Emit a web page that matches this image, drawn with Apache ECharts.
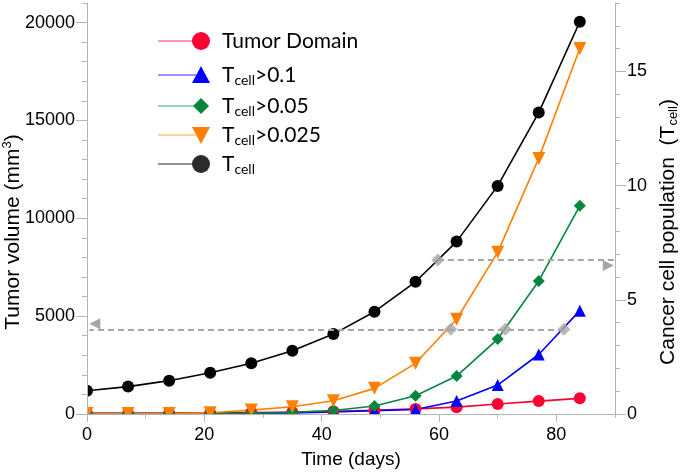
<!DOCTYPE html>
<html><head><meta charset="utf-8">
<script src="https://cdn.jsdelivr.net/npm/echarts@6/dist/echarts.min.js"></script>
<style>html,body{margin:0;padding:0;background:#fff}#c{width:681px;height:474px}</style>
</head><body><div id="c"></div>
<script>
// ---- data ----
const days = [0,7,14,21,28,35,42,49,56,63,70,77,84];
const tumorDomain    = [20,25,35,50,70,100,140,190,260,350,510,660,800];
const tcellAbove01   = [40,40,40,40,40,50,100,170,230,660,1480,3040,5280];
const tcellAbove005  = [20,20,20,25,40,90,180,410,935,1940,3830,6800,10640];
const tcellAbove0025 = [20,20,20,60,200,370,680,1310,2590,4840,8260,13060,18680];
const tcellPopulation = [1.02,1.20,1.46,1.81,2.22,2.77,3.50,4.48,5.79,7.55,9.99,13.20,17.18];
const volumeThreshold = 4330;
const volumeCrossDays = [62.0,71.3,81.3];
const tcellThreshold = 6.74;
const tcellCrossDay = 59.8;
const xTickLabels = [0,20,40,60,80];
const yLeftTickLabels = [0,5000,10000,15000,20000];
const yRightTickLabels = [0,5,10,15];
const legendLabels = ['Tumor Domain','{a|T}{s|cell}{a|>0.1}','{a|T}{s|cell}{a|>0.05}','{a|T}{s|cell}{a|>0.025}','{a|T}{s|cell}'];

// ---- styling ----
const AX = '#b4b4b4';
const FONT = "'Liberation Sans', Arial, sans-serif";
const LFONT = "Lato, 'Open Sans', sans-serif";
const C = {red:'#ff0033', blue:'#0000ff', green:'#00873c', orange:'#ff8000', black:'#000000', gray:'#a6a6a6'};
const pair = arr => days.map((d,i)=>[d,arr[i]]);
const plain = v => String(v);

const GRID = {left:87, right:66, top:3, bottom:60};
const W = 681, H = 474;

const chart = echarts.init(document.getElementById('c'), null, {renderer:'canvas'});

function valueAxis(base){ return Object.assign({type:'value', z:10, splitLine:{show:false}}, base); }

const xAxes = [
  valueAxis({position:'bottom', min:0, max:90, interval:10,
    axisLine:{lineStyle:{color:AX,width:1}},
    axisTick:{length:4, lineStyle:{color:AX}},
    axisLabel:{customValues:xTickLabels, formatter:plain, margin:12, color:'#000', fontSize:18, fontFamily:FONT}}),
  valueAxis({position:'bottom', min:0, max:90, interval:20,
    axisLine:{show:false},
    axisTick:{length:8, customValues:xTickLabels, lineStyle:{color:AX}},
    axisLabel:{show:false}})
];
const yAxes = [
  valueAxis({position:'left', min:0, max:21000, interval:1000,
    axisLine:{show:true, lineStyle:{color:AX,width:1}},
    axisTick:{show:true, length:5, lineStyle:{color:AX}},
    axisLabel:{customValues:yLeftTickLabels, formatter:plain, margin:12, color:'#000', fontSize:18, fontFamily:FONT}}),
  valueAxis({position:'left', min:0, max:21000, interval:5000,
    axisLine:{show:false},
    axisTick:{show:true, length:11, customValues:yLeftTickLabels, lineStyle:{color:AX}},
    axisLabel:{show:false}}),
  valueAxis({position:'right', min:0, max:18, interval:1,
    axisLine:{show:true, lineStyle:{color:AX,width:1}},
    axisTick:{show:true, length:5, lineStyle:{color:AX}},
    axisLabel:{customValues:yRightTickLabels, formatter:plain, margin:12, color:'#000', fontSize:18, fontFamily:FONT}}),
  valueAxis({position:'right', min:0, max:18, interval:5,
    axisLine:{show:false},
    axisTick:{show:true, length:11, customValues:yRightTickLabels, lineStyle:{color:AX}},
    axisLabel:{show:false}})
];

function lineSeries(name, arr, color, symbol, size, yIdx, extra){
  return Object.assign({
    type:'line', name, data:pair(arr), xAxisIndex:0, yAxisIndex:yIdx,
    symbol, symbolSize:size, showSymbol:true, smooth:false, clip:false,
    lineStyle:{color, width:1.6}, itemStyle:{color}, emphasis:{disabled:true}
  }, extra||{});
}

const dashStyle = {color:C.gray, type:[6,4], width:2};

const series = [
  lineSeries('Tumor Domain', tumorDomain, C.red, 'circle', 12, 0),
  lineSeries('Tcell>0.1', tcellAbove01, C.blue, 'triangle', 12, 0),
  lineSeries('Tcell>0.05', tcellAbove005, C.green, 'diamond', 12, 0),
  lineSeries('Tcell>0.025', tcellAbove0025, C.orange, 'triangle', 13, 0, {
    symbolRotate:180,
    markLine:{silent:true, animation:false, symbol:['none','triangle'], symbolSize:[11,11], symbolOffset:[0,5.5],
      lineStyle:dashStyle, label:{show:false}, emphasis:{disabled:true},
      data:[[{coord:[volumeCrossDays[volumeCrossDays.length-1], volumeThreshold]},{coord:[0.4, volumeThreshold]}]]}
  }),
  lineSeries('Tcell', tcellPopulation, C.black, 'circle', 12, 2, {
    markLine:{silent:true, animation:false, symbol:['none','triangle'], symbolSize:[11,11], symbolOffset:[0,5.5],
      lineStyle:dashStyle, label:{show:false}, emphasis:{disabled:true},
      data:[[{coord:[tcellCrossDay, tcellThreshold]},{coord:[89.8, tcellThreshold]}]]}
  }),
  {type:'scatter', xAxisIndex:0, yAxisIndex:0, z:6, symbol:'diamond', symbolSize:13,
    itemStyle:{color:C.gray}, data:volumeCrossDays.map(d=>[d, volumeThreshold])},
  {type:'scatter', xAxisIndex:0, yAxisIndex:2, z:6, symbol:'diamond', symbolSize:13,
    itemStyle:{color:C.gray}, data:[[tcellCrossDay, tcellThreshold]]}
];

// ---- white masks so markers are cut at the plot frame (as in the reference) ----
const maskEls = [
  {type:'rect', shape:{x:0, y:0, width:GRID.left, height:H}, style:{fill:'#fff'}, z:8, silent:true},
  {type:'rect', shape:{x:0, y:H-GRID.bottom+0.5, width:W, height:GRID.bottom}, style:{fill:'#fff'}, z:8, silent:true}
];

// ---- legend (drawn as graphic) ----
const legRows = [41, 75, 106, 135, 164];
const legColors = [C.red, C.blue, C.green, C.orange, '#2b2b2b'];
const legLineColors = ['#ff7a95', '#7070ff', '#7cc39c', '#ffc089', '#707070'];
const legendEls = [];
const mx = 201;
legRows.forEach((y,i)=>{
  legendEls.push({type:'line', shape:{x1:158,y1:y,x2:196,y2:y}, style:{stroke:legLineColors[i], lineWidth:1.5}, z:100});
  let m;
  if(i===0||i===4){ m = {type:'circle', shape:{cx:mx, cy:y, r:9}, style:{fill:legColors[i]}, z:101}; }
  else if(i===1){ m = {type:'polygon', shape:{points:[[mx,y-9],[mx+9,y+8],[mx-9,y+8]]}, style:{fill:legColors[i]}, z:101}; }
  else if(i===2){ m = {type:'polygon', shape:{points:[[mx,y-8],[mx+8,y],[mx,y+8],[mx-8,y]]}, style:{fill:legColors[i]}, z:101}; }
  else { m = {type:'polygon', shape:{points:[[mx-9,y-8],[mx+9,y-8],[mx,y+9]]}, style:{fill:legColors[i]}, z:101}; }
  legendEls.push(m);
  legendEls.push({type:'text', x:222, y:y, z:101, style:{
    text:legendLabels[i], fill:'#000', fontSize:21, fontFamily:LFONT,
    align:'left', verticalAlign:'middle', textAlign:'left', textVerticalAlign:'middle',
    rich:{a:{fontSize:21, fontFamily:LFONT, fill:'#000', lineHeight:24},
          s:{fontSize:14, fontFamily:LFONT, fill:'#000', lineHeight:14, verticalAlign:'bottom'}}
  }});
});

// ---- axis titles ----
const titleEls = [
  {type:'text', x:13, y:232, rotation:Math.PI/2, z:100, style:{
    text:'{a|Tumor volume (mm}{p|3}{a|)}', align:'center', verticalAlign:'middle', textAlign:'center', textVerticalAlign:'middle',
    rich:{a:{fontSize:21, fontFamily:FONT, fill:'#000', lineHeight:24},
          p:{fontSize:13, fontFamily:FONT, fill:'#000', lineHeight:13, verticalAlign:'top'}}}},
  {type:'text', x:668, y:232, rotation:Math.PI/2, z:100, style:{
    text:'{a|Cancer cell population  (T}{s|cell}{a|)}', align:'center', verticalAlign:'middle', textAlign:'center', textVerticalAlign:'middle',
    rich:{a:{fontSize:21, fontFamily:FONT, fill:'#000', lineHeight:24},
          s:{fontSize:13, fontFamily:FONT, fill:'#000', lineHeight:13, verticalAlign:'bottom'}}}},
  {type:'text', x:351, y:460, z:100, style:{
    text:'Time (days)', fontSize:19, fontFamily:FONT, fill:'#000',
    align:'center', verticalAlign:'middle', textAlign:'center', textVerticalAlign:'middle'}}
];

chart.setOption({
  animation:false,
  backgroundColor:'#fff',
  grid:Object.assign({containLabel:false, outerBoundsMode:'none'}, GRID),
  xAxis:xAxes,
  yAxis:yAxes,
  series,
  graphic:{elements:maskEls.concat(legendEls, titleEls)}
});
</script>
</body></html>
